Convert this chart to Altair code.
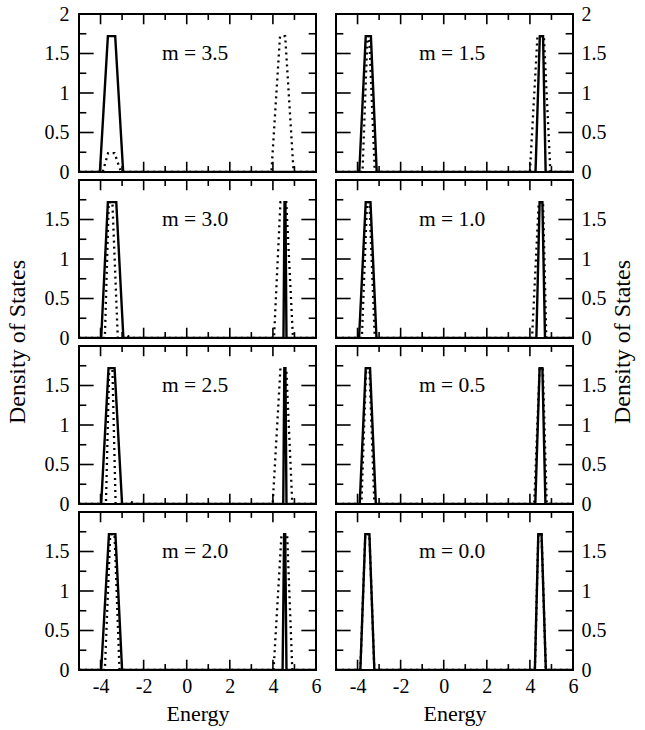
import altair as alt
import pandas as pd

# ---------------- data ----------------
# x-axis / y-axis tick values
x_label_vals = [-4, -2, 0, 2, 4, 6]
x_major = [-4, -2, 0, 2, 4]
x_minor = [-3, -1, 1, 3, 5]
y_major = [0.5, 1, 1.5]
y_minor = [0.25, 0.75, 1.25, 1.75]

# m = 3.5
m35_solid_e = [-5.0, -4.03, -3.66, -3.32, -2.95, 6.0]
m35_solid_d = [0, 0, 1.72, 1.72, 0, 0]
m35_dot_e = [-5.0, -3.9, -3.65, -3.35, -3.05, 3.93, 4.33, 4.57, 4.96, 6.0]
m35_dot_d = [0, 0, 0.24, 0.24, 0, 0, 1.72, 1.72, 0, 0]

# m = 3.0
m30_solid_e = [-5.0, -3.97, -3.66, -3.27, -2.94, 4.49, 4.54, 4.58, 4.63, 6.0]
m30_solid_d = [0, 0, 1.72, 1.72, 0, 0, 1.72, 1.72, 0, 0]
m30_dot_e = [-5.0, -3.8, -3.62, -3.45, -3.2, -2.9, -2.75, -2.6, 4.05, 4.35, 4.62, 4.93, 6.0]
m30_dot_d = [0, 0, 1.72, 1.72, 0, 0, 0.03, 0, 0, 1.72, 1.72, 0, 0]

# m = 2.5
m25_solid_e = [-5.0, -3.97, -3.63, -3.35, -3.0, 4.48, 4.53, 4.58, 4.63, 6.0]
m25_solid_d = [0, 0, 1.72, 1.72, 0, 0, 1.72, 1.72, 0, 0]
m25_dot_e = [-5.0, -3.75, -3.6, -3.45, -3.3, -2.8, -2.6, -2.4, 3.99, 4.35, 4.62, 4.9, 6.0]
m25_dot_d = [0, 0, 1.72, 1.72, 0, 0, 0.03, 0, 0, 1.72, 1.72, 0, 0]

# m = 2.0
m20_solid_e = [-5.0, -3.97, -3.61, -3.31, -3.0, 4.45, 4.52, 4.57, 4.63, 6.0]
m20_solid_d = [0, 0, 1.72, 1.72, 0, 0, 1.72, 1.72, 0, 0]
m20_dot_e = [-5.0, -3.8, -3.55, -3.35, -3.12, 4.03, 4.4, 4.66, 4.9, 6.0]
m20_dot_d = [0, 0, 1.72, 1.72, 0, 0, 1.72, 1.72, 0, 0]

# m = 1.5
m15_solid_e = [-5.0, -3.92, -3.62, -3.38, -3.11, 4.26, 4.46, 4.61, 4.73, 6.0]
m15_solid_d = [0, 0, 1.72, 1.72, 0, 0, 1.72, 1.72, 0, 0]
m15_dot_e = [-5.0, -3.77, -3.54, -3.46, -3.2, 4.0, 4.35, 4.65, 4.95, 6.0]
m15_dot_d = [0, 0, 1.72, 1.72, 0, 0, 1.72, 1.72, 0, 0]

# m = 1.0
m10_solid_e = [-5.0, -3.93, -3.62, -3.4, -3.12, 4.3, 4.45, 4.58, 4.7, 6.0]
m10_solid_d = [0, 0, 1.72, 1.72, 0, 0, 1.72, 1.72, 0, 0]
m10_dot_e = [-5.0, -3.8, -3.56, -3.45, -3.2, 4.1, 4.41, 4.61, 4.76, 6.0]
m10_dot_d = [0, 0, 1.72, 1.72, 0, 0, 1.72, 1.72, 0, 0]

# m = 0.5
m05_solid_e = [-5.0, -3.9, -3.62, -3.42, -3.15, 4.25, 4.45, 4.58, 4.72, 6.0]
m05_solid_d = [0, 0, 1.72, 1.72, 0, 0, 1.72, 1.72, 0, 0]
m05_dot_e = [-5.0, -3.82, -3.6, -3.45, -3.22, 4.2, 4.45, 4.6, 4.78, 6.0]
m05_dot_d = [0, 0, 1.72, 1.72, 0, 0, 1.72, 1.72, 0, 0]

# m = 0.0
m00_solid_e = [-5.0, -3.87, -3.64, -3.45, -3.22, 4.23, 4.39, 4.54, 4.74, 6.0]
m00_solid_d = [0, 0, 1.72, 1.72, 0, 0, 1.72, 1.72, 0, 0]
m00_dot_e = [-5.0, -3.87, -3.64, -3.45, -3.22, 4.23, 4.39, 4.54, 4.74, 6.0]
m00_dot_d = [0, 0, 1.72, 1.72, 0, 0, 1.72, 1.72, 0, 0]

y_title_text = "Density of States"
x_title_text = "Energy"

# ---------------- styling ----------------
FONT = "Liberation Serif"
PANEL_W, PANEL_H = 237, 158
X_DOMAIN = [-5, 6]
Y_DOMAIN = [0, 2]
# inner tick lengths, expressed in data units of the crossing axis
TX_MAJ, TX_MIN = 0.13, 0.075
TY_MAJ, TY_MIN = 0.68, 0.34

tick_rows = []
for v, ln in [(v, TX_MAJ) for v in x_major] + [(v, TX_MIN) for v in x_minor]:
    tick_rows.append(dict(x=v, x2=v, y=Y_DOMAIN[0], y2=Y_DOMAIN[0] + ln))
    tick_rows.append(dict(x=v, x2=v, y=Y_DOMAIN[1], y2=Y_DOMAIN[1] - ln))
for v, ln in [(v, TY_MAJ) for v in y_major] + [(v, TY_MIN) for v in y_minor]:
    tick_rows.append(dict(x=X_DOMAIN[0], x2=X_DOMAIN[0] + ln, y=v, y2=v))
    tick_rows.append(dict(x=X_DOMAIN[1], x2=X_DOMAIN[1] - ln, y=v, y2=v))
ticks_df = pd.DataFrame(tick_rows)


def make_panel(label, se, sd, de, dd, row, col):
    xscale = alt.Scale(domain=X_DOMAIN, nice=False, zero=False)
    yscale = alt.Scale(domain=Y_DOMAIN, nice=False, zero=False)

    if row == 3:
        x_axis = alt.Axis(
            values=x_label_vals, labelExpr="datum.value + ''", ticks=False,
            domain=False, grid=False, labelPadding=6, labelFontSize=20,
            labelFlush=False, labelOverlap=False, titlePadding=7,
            titleFontSize=22, titleFontWeight="normal")
        x_title = x_title_text
    else:
        x_axis = None
        x_title = None

    yvals = [0, 0.5, 1, 1.5, 2] if row == 0 else [0, 0.5, 1, 1.5]
    y_axis = alt.Axis(values=yvals, labelExpr="datum.value + ''", ticks=False,
                      domain=False, grid=False, labelFontSize=20,
                      labelFlush=False, labelOverlap=False,
                      orient="left" if col == 0 else "right",
                      labelPadding=10 if col == 0 else 8)

    def xe(field):
        return alt.X(field, scale=xscale, axis=x_axis, title=x_title)

    def ye(field):
        return alt.Y(field, scale=yscale, axis=y_axis, title=None)

    ticks = alt.Chart(ticks_df).mark_rule(color="black", strokeWidth=1.6).encode(
        x=xe("x:Q"), x2="x2:Q", y=ye("y:Q"), y2="y2:Q")

    dotted = alt.Chart(pd.DataFrame({"e": de, "d": dd})).mark_line(
        color="black", strokeWidth=2.3, strokeDash=[2, 4], clip=True).encode(
        x=xe("e:Q"), y=ye("d:Q"))

    solid = alt.Chart(pd.DataFrame({"e": se, "d": sd})).mark_line(
        color="black", strokeWidth=2.4, clip=True).encode(
        x=xe("e:Q"), y=ye("d:Q"))

    text = alt.Chart(pd.DataFrame({"label": [label]})).mark_text(
        fontSize=21.5, align="center", baseline="middle", color="black").encode(
        x=alt.value(PANEL_W * 0.49), y=alt.value(PANEL_H * 0.25),
        text="label:N")

    layers = [ticks, dotted, solid, text]
    if row == 1:
        ytitle = alt.Chart(pd.DataFrame({"t": [y_title_text]})).mark_text(
            fontSize=24, align="center", baseline="middle", angle=270,
            color="black").encode(
            x=alt.value(-61 if col == 0 else PANEL_W + 50),
            y=alt.value(PANEL_H + 4), text="t:N")
        layers.append(ytitle)

    return alt.layer(*layers).properties(width=PANEL_W, height=PANEL_H)


panels = [
    make_panel("m = 3.5", m35_solid_e, m35_solid_d, m35_dot_e, m35_dot_d, 0, 0),
    make_panel("m = 1.5", m15_solid_e, m15_solid_d, m15_dot_e, m15_dot_d, 0, 1),
    make_panel("m = 3.0", m30_solid_e, m30_solid_d, m30_dot_e, m30_dot_d, 1, 0),
    make_panel("m = 1.0", m10_solid_e, m10_solid_d, m10_dot_e, m10_dot_d, 1, 1),
    make_panel("m = 2.5", m25_solid_e, m25_solid_d, m25_dot_e, m25_dot_d, 2, 0),
    make_panel("m = 0.5", m05_solid_e, m05_solid_d, m05_dot_e, m05_dot_d, 2, 1),
    make_panel("m = 2.0", m20_solid_e, m20_solid_d, m20_dot_e, m20_dot_d, 3, 0),
    make_panel("m = 0.0", m00_solid_e, m00_solid_d, m00_dot_e, m00_dot_d, 3, 1),
]

chart = alt.concat(
    *panels, columns=2, spacing={"row": 8, "column": 20}, bounds="flush"
).properties(
    padding={"left": 5, "top": 3, "right": 5, "bottom": 1},
    background="white",
).configure(
    font=FONT,
).configure_view(
    stroke="black", strokeWidth=2,
).configure_axis(
    labelFont=FONT, titleFont=FONT, labelColor="black", titleColor="black",
).configure_text(font=FONT)

chart.save("out.html", embed_options={"renderer": "svg", "actions": False})
